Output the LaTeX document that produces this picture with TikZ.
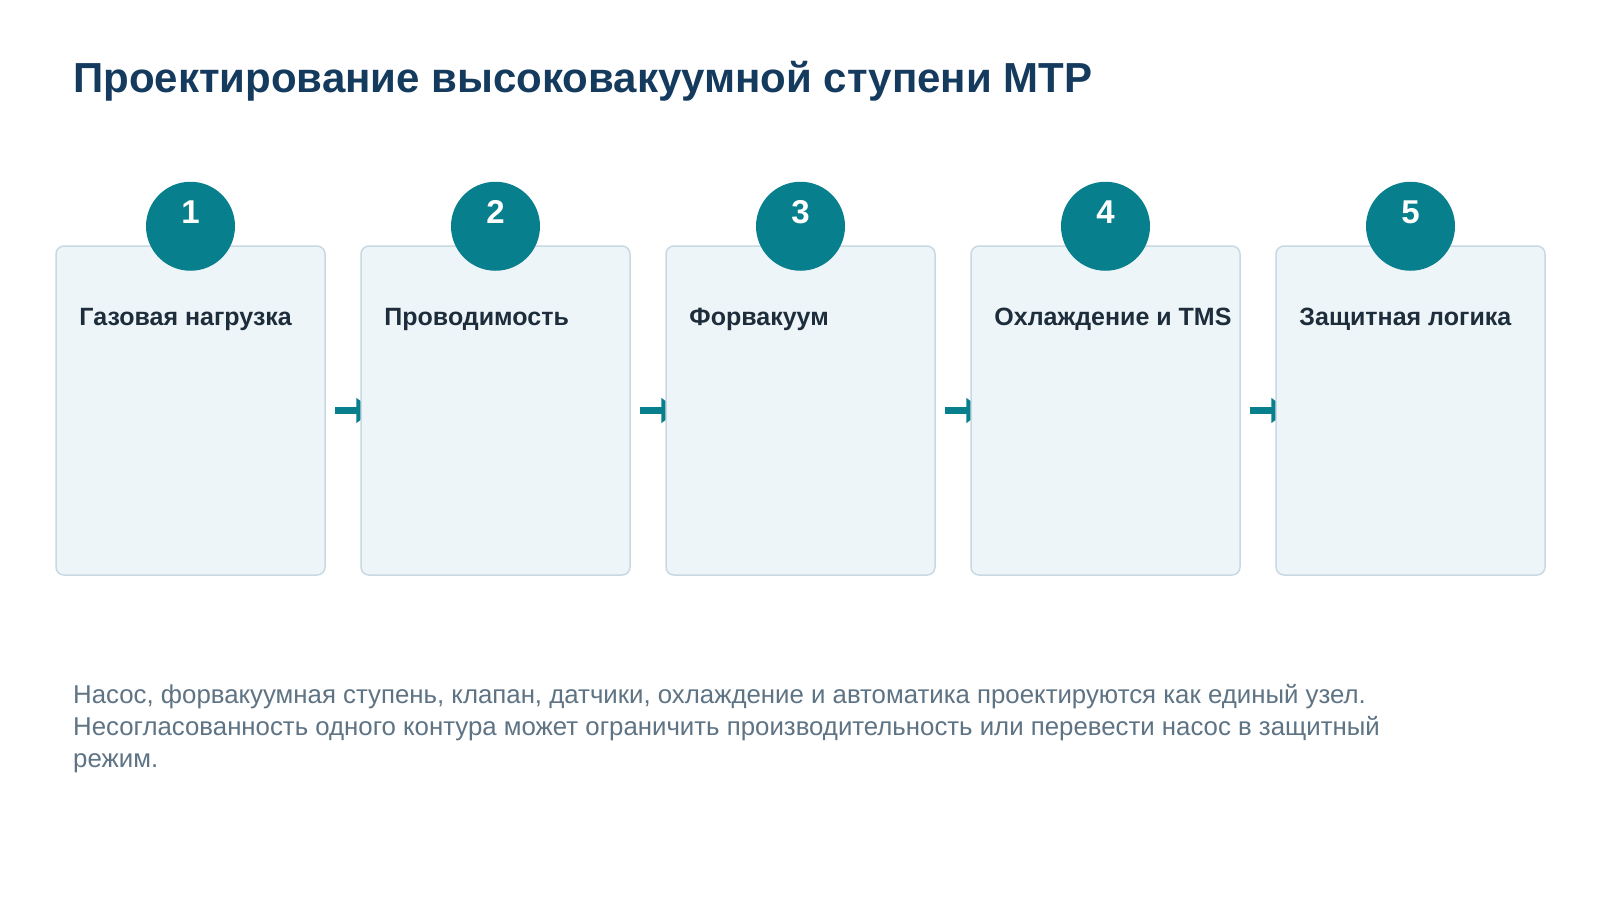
\documentclass[tikz,border=0pt]{standalone}
\usepackage{fontspec}
\setmainfont{Liberation Sans}
\usetikzlibrary{calc}
\usetikzlibrary{arrows.meta}
\usetikzlibrary{backgrounds}

\definecolor{titleblue}{HTML}{143A5E}
\definecolor{badgeteal}{HTML}{087F8C}
\definecolor{stagefill}{HTML}{EEF5F8}
\definecolor{stageborder}{HTML}{C9D9E3}
\definecolor{headingdark}{HTML}{1E2D3B}
\definecolor{bodygray}{HTML}{5E7384}

\begin{document}
\begin{tikzpicture}[x=1pt, y=-1pt,
  stagebox/.style={rectangle, rounded corners=8pt, draw=stageborder, fill=stagefill, line width=1.5pt, minimum width=269pt, minimum height=329pt, inner sep=0pt},
  badge/.style={circle, fill=badgeteal, minimum size=89pt, inner sep=0pt},
  badgenum/.style={text=white, font=\fontsize{33}{36}\selectfont\bfseries, inner sep=0pt},
  heading/.style={text=headingdark, font=\fontsize{25}{29}\selectfont\bfseries, inner sep=0pt},
  flow/.style={line width=7pt, draw=badgeteal, -{Triangle[width=24pt, length=18pt]}}]
\useasboundingbox (0,0) rectangle (1600,900);
\draw (73,92) node[anchor=base west, inner sep=0pt, text=titleblue, font=\fontsize{42}{48}\selectfont\bfseries, name=title]{Проектирование высоковакуумной ступени МТР};
\draw (190.5,410.5) node[stagebox, name=s1]{};
\draw (s1) + (305,0) node[stagebox, name=s2]{};
\draw (s2) + (305,0) node[stagebox, name=s3]{};
\draw (s3) + (305,0) node[stagebox, name=s4]{};
\draw (s4) + (305,0) node[stagebox, name=s5]{};
\begin{scope}[on background layer]
\fill[white] (0,0) rectangle (1600,900);
\draw[flow] ($(s1.east)+(9.5,0)$) -- ($(s2.west)+(14,0)$);
\draw[flow] ($(s2.east)+(9.5,0)$) -- ($(s3.west)+(14,0)$);
\draw[flow] ($(s3.east)+(9.5,0)$) -- ($(s4.west)+(14,0)$);
\draw[flow] ($(s4.east)+(9.5,0)$) -- ($(s5.west)+(14,0)$);
\end{scope}
\draw (s1.north) + (0,-19) node[badge, name=n1]{};
\draw (s2.north) + (0,-19) node[badge, name=n2]{};
\draw (s3.north) + (0,-19) node[badge, name=n3]{};
\draw (s4.north) + (0,-19) node[badge, name=n4]{};
\draw (s5.north) + (0,-19) node[badge, name=n5]{};
\draw (n1.center) + (0,-3) node[anchor=base, badgenum]{1};
\draw (n2.center) + (0,-3) node[anchor=base, badgenum]{2};
\draw (n3.center) + (0,-3) node[anchor=base, badgenum]{3};
\draw (n4.center) + (0,-3) node[anchor=base, badgenum]{4};
\draw (n5.center) + (0,-3) node[anchor=base, badgenum]{5};
\draw (s1.north west) + (24,80) node[anchor=base west, heading]{Газовая нагрузка};
\draw (s2.north west) + (24,80) node[anchor=base west, heading]{Проводимость};
\draw (s3.north west) + (24,80) node[anchor=base west, heading]{Форвакуум};
\draw (s4.north west) + (24,80) node[anchor=base west, heading]{Охлаждение и TMS};
\draw (s5.north west) + (24,80) node[anchor=base west, heading]{Защитная логика};
\draw (73,767) node[anchor=base west, align=left, inner sep=0pt, text=bodygray, font=\fontsize{25.8}{32}\selectfont, name=note]{Насос, форвакуумная ступень, клапан, датчики, охлаждение и автоматика проектируются как единый узел.\\Несогласованность одного контура может ограничить производительность или перевести насос в защитный\\режим.};
\end{tikzpicture}
\end{document}
